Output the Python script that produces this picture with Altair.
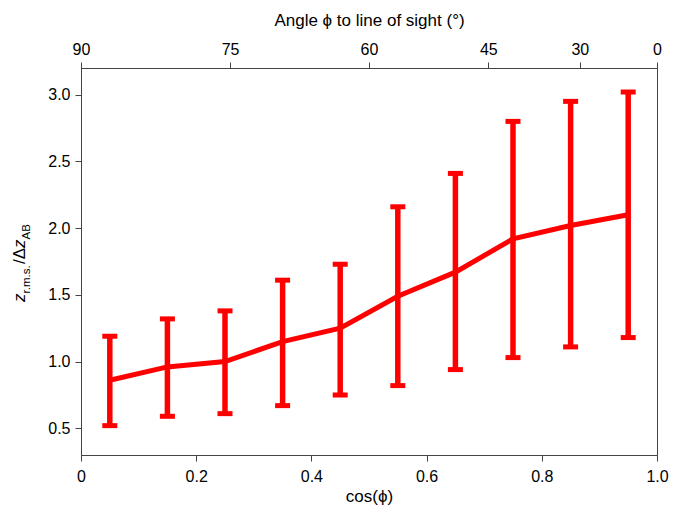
import altair as alt
import numpy as np
import pandas as pd

# ---- data ----
cos_phi = [0.05, 0.15, 0.25, 0.35, 0.45, 0.55, 0.65, 0.75, 0.85, 0.95]
mean_ratio = [0.86, 0.96, 1.00, 1.15, 1.25, 1.49, 1.67, 1.92, 2.02, 2.10]
lower_err = [0.52, 0.59, 0.61, 0.67, 0.75, 0.82, 0.94, 1.03, 1.11, 1.18]
upper_err = [1.19, 1.32, 1.38, 1.61, 1.73, 2.16, 2.41, 2.80, 2.95, 3.02]

x_ticks = [0, 0.2, 0.4, 0.6, 0.8, 1.0]
y_ticks = [0.5, 1.0, 1.5, 2.0, 2.5, 3.0]
top_angles = [90, 75, 60, 45, 30, 0]
top_tick_vals = [float(np.cos(np.radians(a))) for a in top_angles]

df = pd.DataFrame({"c": cos_phi, "m": mean_ratio, "lo": lower_err, "hi": upper_err})

RED = "#ff0000"
FONT = "Liberation Sans"
AX = "#444444"

xscale = alt.Scale(domain=[0, 1], nice=False, zero=False)
yscale = alt.Scale(domain=[0.3, 3.2], nice=False, zero=False)

bottom_axis = alt.Axis(orient="bottom", values=x_ticks,
                       labelExpr="datum.value == 0 ? '0' : format(datum.value, '.1f')",
                       title="cos(ϕ)", tickSize=6, labelPadding=7, titlePadding=4,
                       labelFlush=False, grid=False)
top_axis = alt.Axis(orient="top", values=top_tick_vals,
                    labelExpr="format(round(acos(datum.value) * 180 / PI), 'd')",
                    title="Angle ϕ to line of sight (°)", tickSize=6, labelPadding=5,
                    titlePadding=12, labelFlush=False, grid=False)
y_axis = alt.Axis(values=y_ticks, format=".1f", title=None, tickSize=6,
                  labelPadding=5, grid=False)

base = alt.Chart(df)

bars = base.mark_rule(color=RED, strokeWidth=5.5).encode(
    x=alt.X("c:Q", scale=xscale, axis=bottom_axis),
    y=alt.Y("lo:Q", scale=yscale, axis=y_axis),
    y2="hi:Q",
)
caps_lo = base.mark_tick(color=RED, thickness=5, size=15, orient="horizontal", opacity=1).encode(
    x=alt.X("c:Q", scale=xscale, axis=None),
    y=alt.Y("lo:Q", scale=yscale, axis=y_axis),
)
caps_hi = base.mark_tick(color=RED, thickness=5, size=15, orient="horizontal", opacity=1).encode(
    x=alt.X("c:Q", scale=xscale, axis=None),
    y=alt.Y("hi:Q", scale=yscale, axis=y_axis),
)
line = base.mark_line(color=RED, strokeWidth=5).encode(
    x=alt.X("c:Q", scale=xscale, axis=top_axis),
    y=alt.Y("m:Q", scale=yscale, axis=y_axis),
)

# y-axis title built from pieces (italic z, subscripts)
title_parts = ["z", "r.m.s.", "/", "Δ", "z", "AB"]
part_style = [
    (0.0, 0, 17, "italic"),
    (8.5, 5, 11.5, "normal"),
    (38.0, 0, 17, "normal"),
    (42.7, 0, 17, "normal"),
    (54.1, 0, 17, "italic"),
    (62.6, 5, 11.5, "normal"),
]
one_row = alt.InlineData(values=[{"k": 0}])
pieces = []
for txt, (dx, dy, size, style) in zip(title_parts, part_style):
    pieces.append(
        alt.Chart(one_row).mark_text(
            text=txt, angle=270, align="left", baseline="alphabetic",
            dx=dx, dy=dy, fontSize=size, fontStyle=style, font=FONT, color="black",
        ).encode(x=alt.value(-56), y=alt.value(234))
    )

chart = (
    alt.layer(bars, caps_lo, caps_hi, line, *pieces)
    .resolve_scale(x="shared", y="shared")
    .resolve_axis(x="independent", y="shared")
    .properties(
        width=576, height=387,
        padding={"left": 73, "top": 60, "right": 19, "bottom": 56},
        autosize=alt.AutoSizeParams(type="none"),
        background="white",
    )
    .configure_view(stroke=AX, strokeWidth=1)
    .configure_axis(
        labelFont=FONT, titleFont=FONT, labelFontSize=16, titleFontSize=17,
        labelColor="black", titleColor="black", titleFontWeight="normal",
        domainColor=AX, tickColor=AX, domainWidth=1, tickWidth=1,
    )
)

chart.save("out.html", embed_options={"renderer": "svg", "actions": False})
